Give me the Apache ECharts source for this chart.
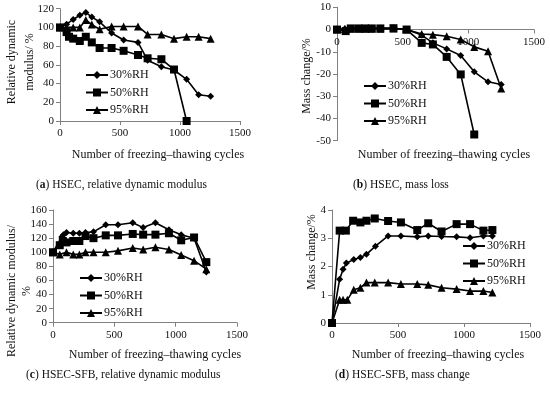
<!DOCTYPE html>
<html><head><meta charset="utf-8">
<script src="https://cdn.jsdelivr.net/npm/echarts@6/dist/echarts.min.js"></script>
<style>html,body{margin:0;padding:0;background:#fff}#c{width:550px;height:396px}</style>
</head><body><div id="c"></div>
<script>
// ---- Data ----
const seriesNames = ['30%RH', '50%RH', '95%RH'];
const xTicks = [0, 500, 1000, 1500];

// (a) HSEC, relative dynamic modulus
const a30X = [0, 55, 110, 165, 215, 265, 330, 430, 530, 650, 730, 845, 950, 1055, 1155, 1255];
const a30Y = [100, 103.5, 108.5, 113, 116, 111, 106, 94, 86.5, 84, 65, 58, 54.5, 44.5, 28, 26.5];
const a50X = [0, 55, 75, 110, 165, 215, 265, 330, 430, 530, 650, 730, 845, 950, 1055];
const a50Y = [100, 95, 90, 88, 85.5, 90, 84, 78, 78, 75, 70.5, 67, 66, 55, 0];
const a95X = [0, 55, 110, 165, 215, 265, 330, 430, 530, 650, 730, 845, 950, 1055, 1155, 1255];
const a95Y = [100, 100, 100, 100, 108, 103, 98, 101, 101, 101, 92.5, 92.5, 88, 90, 90, 88];

// (b) HSEC, mass loss
const b30X = [0, 60, 105, 165, 215, 265, 330, 430, 530, 645, 730, 835, 942, 1045, 1150, 1250];
const b30Y = [0, 0.3, 0.5, 0.5, 0.5, 0.5, 0.5, 0.6, 0, -2.5, -6, -8.7, -11.7, -19, -23.5, -24.7];
const b50X = [0, 66, 105, 165, 215, 265, 330, 430, 530, 645, 730, 835, 942, 1045];
const b50Y = [0, -0.7, 0.5, 0.5, 0.5, 0.5, 0.5, 0.6, 0, -6, -6.7, -12.3, -20.2, -47.2];
const b95X = [0, 60, 105, 165, 215, 265, 330, 430, 530, 645, 730, 835, 942, 1045, 1150, 1250];
const b95Y = [0, 0.2, 0.4, 0.4, 0.4, 0.4, 0.4, 0.5, 0, -2, -2.3, -3, -4.5, -7.8, -9.8, -26.5];

// (c) HSEC-SFB, relative dynamic modulus
const c30X = [0, 73, 85, 110, 165, 215, 265, 330, 430, 530, 650, 735, 835, 945, 1045, 1150, 1250];
const c30Y = [100, 122, 125, 128, 127, 127, 128, 129, 139, 139, 142, 135, 142, 132, 125, 120, 72];
const c50X = [0, 55, 80, 110, 165, 215, 265, 330, 430, 530, 650, 735, 835, 945, 1045, 1150, 1250];
const c50Y = [100, 110, 116, 114, 116, 116, 123, 120, 124, 124, 126, 125, 125, 127, 117, 121, 86];
const c95X = [0, 55, 110, 165, 215, 265, 330, 430, 530, 650, 735, 835, 945, 1045, 1150, 1250];
const c95Y = [100, 97, 100, 97, 97, 100, 100, 100, 102, 106, 104, 107, 104, 96, 88, 76];

// (d) HSEC-SFB, mass change
const d30X = [0, 58, 84, 109, 165, 215, 261, 329, 425, 522, 646, 729, 830, 944, 1046, 1147, 1215];
const d30Y = [0, 1.55, 1.9, 2.12, 2.25, 2.32, 2.43, 2.72, 3.08, 3.08, 3.05, 3.08, 3.06, 3.05, 3.02, 3.08, 3.08];
const d50X = [0, 58, 105, 160, 215, 261, 324, 425, 522, 646, 729, 830, 944, 1046, 1147, 1215];
const d50Y = [0, 3.27, 3.27, 3.62, 3.56, 3.62, 3.7, 3.61, 3.56, 3.29, 3.53, 3.24, 3.5, 3.5, 3.27, 3.29];
const d95X = [0, 58, 84, 116, 165, 215, 261, 324, 425, 522, 646, 729, 830, 944, 1046, 1147, 1215];
const d95Y = [0, 0.82, 0.82, 0.82, 1.18, 1.25, 1.43, 1.43, 1.43, 1.38, 1.38, 1.35, 1.25, 1.2, 1.13, 1.13, 1.08];

const captions = [
  ['a', 'HSEC, relative dynamic modulus'],
  ['b', 'HSEC, mass loss'],
  ['c', 'HSEC-SFB, relative dynamic modulus'],
  ['d', 'HSEC-SFB, mass change']
];
const xTitle = 'Number of freezing\u2013thawing cycles';
const yTitles = ['Relative dynamic\nmodulus/ %', 'Mass change/%', 'Relative dynamic modulus/\n%', 'Mass change/%'];

// ---- Chart ----
const FONT = '"Liberation Serif", "Times New Roman", serif';
const zip = (xs, ys) => xs.map((x, i) => [x, ys[i]]);
const symbols = ['diamond', 'rect', 'triangle'];
const symSizes = [7, 8, 8];

const grids = [
  {left: 60, top: 8.7, width: 180, height: 112.3},
  {left: 337, top: 7.3, width: 197, height: 133.4},
  {left: 53, top: 210, width: 184, height: 112.7},
  {left: 332, top: 210, width: 198, height: 113}
];
const yRanges = [[0, 120, 20], [-50, 10, 10], [0, 160, 20], [0, 4, 1]];
// x axis of panel (b) crosses at y = 0: offset up from the grid bottom
const xOffsets = [0, -(133.4 * 50 / 60), 0, 0];
const panelData = [
  [[a30X, a30Y], [a50X, a50Y], [a95X, a95Y]],
  [[b30X, b30Y], [b50X, b50Y], [b95X, b95Y]],
  [[c30X, c30Y], [c50X, c50Y], [c95X, c95Y]],
  [[d30X, d30Y], [d50X, d50Y], [d95X, d95Y]]
];
const axisLine = {show: true, onZero: false, lineStyle: {color: '#808080', width: 1}};
const axisTick = {show: true, length: 4, lineStyle: {color: '#808080'}};
const labelStyle = {color: '#111', fontFamily: FONT, fontSize: 11, formatter: v => String(v)};

const xAxes = grids.map((g, i) => ({
  type: 'value', gridIndex: i, min: 0, max: 1500, interval: 500, position: 'bottom', offset: xOffsets[i],
  axisLine, axisTick,
  axisLabel: Object.assign({margin: 7}, labelStyle), splitLine: {show: false}
}));
const yAxes = grids.map((g, i) => ({
  type: 'value', gridIndex: i, min: yRanges[i][0], max: yRanges[i][1], interval: yRanges[i][2],
  axisLine, axisTick, axisLabel: Object.assign({margin: 6}, labelStyle), splitLine: {show: false}
}));

const series = [];
panelData.forEach((pd, p) => {
  pd.forEach((xy, k) => {
    series.push({
      name: seriesNames[k], type: 'line', xAxisIndex: p, yAxisIndex: p,
      data: zip(xy[0], xy[1]), symbol: symbols[k], symbolSize: symSizes[k],
      lineStyle: {color: '#000', width: 1.6}, itemStyle: {color: '#000'},
      animation: false, z: 3 + k
    });
  });
});

const legendPos = [[80, 64], [358, 75], [74, 267], [457, 235]];
const legends = legendPos.map(lp => ({
  data: seriesNames, orient: 'vertical', left: lp[0], top: lp[1],
  itemWidth: 22, itemHeight: 10, itemGap: 5.5, padding: 5,
  textStyle: {fontFamily: FONT, fontSize: 12, color: '#111', padding: [0, 0, 0, -3]},
  selectedMode: false
}));

const graphics = [];
const xTitlePos = [[158, 155], [444, 155], [155, 355], [438, 355]];
xTitlePos.forEach(p => graphics.push({
  type: 'text', x: p[0], y: p[1],
  style: {text: xTitle, fontFamily: FONT, fontSize: 12, fill: '#111', align: 'center', verticalAlign: 'middle'}
}));
const yTitlePos = [[21, 62, 18], [307, 76, 14], [19.5, 291, 15], [312, 252, 14]];
yTitlePos.forEach((p, i) => graphics.push({
  type: 'text', x: p[0], y: p[1], rotation: Math.PI / 2,
  style: {text: yTitles[i], fontFamily: FONT, fontSize: 12, lineHeight: p[2], fill: '#111', align: 'center', verticalAlign: 'middle'}
}));
const capPos = [[36, 185], [353, 185], [26, 375], [335, 375]];
const CAPFONT = '"Liberation Serif", serif';
capPos.forEach((p, i) => graphics.push({
  type: 'text', x: p[0], y: p[1],
  style: {
    text: '({b|' + captions[i][0] + '}) ' + captions[i][1],
    fontFamily: CAPFONT, fontSize: 11.5, fill: '#111', verticalAlign: 'middle',
    rich: {b: {fontWeight: 'bold', fontFamily: CAPFONT, fontSize: 11.5, fill: '#111'}}
  }
}));

const chart = echarts.init(document.getElementById('c'), null, {renderer: 'canvas'});
chart.setOption({
  animation: false,
  backgroundColor: '#fff',
  grid: grids,
  xAxis: xAxes,
  yAxis: yAxes,
  legend: legends,
  series,
  graphic: graphics
});
</script></body></html>
